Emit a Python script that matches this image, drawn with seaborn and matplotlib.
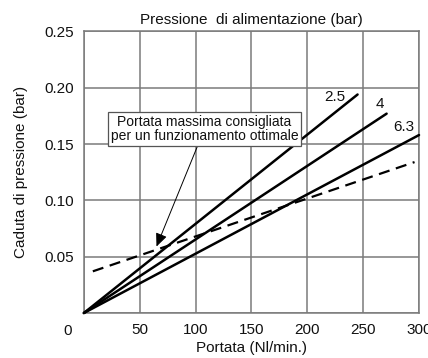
import matplotlib
matplotlib.use("Agg")
import matplotlib.pyplot as plt
import seaborn as sns
import pandas as pd

# Data
pressures = ["2.5", "4", "6.3"]
flow_end = [245, 271, 300]          # Nl/min at end of each line
drop_end = [0.194, 0.177, 0.158]    # bar at end of each line
max_flow_x = [8, 296]               # dashed "max recommended flow" line
max_flow_y = [0.037, 0.134]
label_x = [225, 265, 286]
label_y = [0.192, 0.1856, 0.1655]
x_ticks = [50, 100, 150, 200, 250, 300]
y_ticks = [0.05, 0.10, 0.15, 0.20, 0.25]

sns.set_style("white")
plt.rcParams['font.family'] = ['Liberation Sans', 'DejaVu Sans']

rows = []
for p, xe, ye in zip(pressures, flow_end, drop_end):
    rows.append({"p": p, "x": 0, "y": 0.0})
    rows.append({"p": p, "x": xe, "y": ye})
df = pd.DataFrame(rows)
dfd = pd.DataFrame({"x": max_flow_x, "y": max_flow_y})

fig = plt.figure(figsize=(4.28, 3.58), dpi=100)
ax = fig.add_axes([0.196, 0.1257, 0.783, 0.7865])

sns.lineplot(data=df, x="x", y="y", units="p", estimator=None, color="black",
             linewidth=1.8, ax=ax, legend=False)
sns.lineplot(data=dfd, x="x", y="y", color="black", linewidth=1.6, ax=ax,
             linestyle=(0, (5, 3)), legend=False)
for l in ax.lines:
    l.set_clip_on(False)
    l.set_zorder(3)

ax.set_xlim(0, 300)
ax.set_ylim(0, 0.25)
ax.set_xticks([0] + x_ticks)
ax.set_xticklabels([""] + [str(t) for t in x_ticks])
ax.set_yticks([0] + y_ticks)
ax.set_yticklabels([""] + [f"{t:.2f}" for t in y_ticks])
ax.grid(True, color="#7a7a7a", linewidth=1.1)
for s in ax.spines.values():
    s.set_color("#7a7a7a")
    s.set_linewidth(1.1)
ax.tick_params(axis="both", which="both", direction="out", length=4, width=1.1,
               color="#7a7a7a", labelsize=11, pad=3, labelcolor="#111111")
ax.set_axisbelow(True)

ax.annotate("0", xy=(0, 0), xycoords="data", xytext=(-12, -8),
            textcoords="offset points", ha="center", va="top", fontsize=11,
            color="#111111")

for p, lx, ly in zip(pressures, label_x, label_y):
    ax.text(lx, ly, p, ha="center", va="center", fontsize=11, color="#111111")

ax.annotate("Portata massima consigliata\nper un funzionamento ottimale",
            xy=(65, 0.059), xytext=(108, 0.1635), ha="center", va="center",
            fontsize=10, color="#111111", linespacing=1.0,
            bbox=dict(boxstyle="square,pad=0.2", fc="white", ec="#555555", lw=0.9),
            arrowprops=dict(arrowstyle="-|>,head_length=0.8,head_width=0.35",
                            color="black", lw=0.7, shrinkA=0, shrinkB=0),
            zorder=5)

ax.set_title("Pressione  di alimentazione (bar)", fontsize=11, pad=5, color="#111111")
ax.set_xlabel("Portata (Nl/min.)", fontsize=11, labelpad=3, color="#111111")
ax.set_ylabel("Caduta di pressione (bar)", fontsize=11, labelpad=12, color="#111111")

fig.savefig("out.png", dpi=100)
